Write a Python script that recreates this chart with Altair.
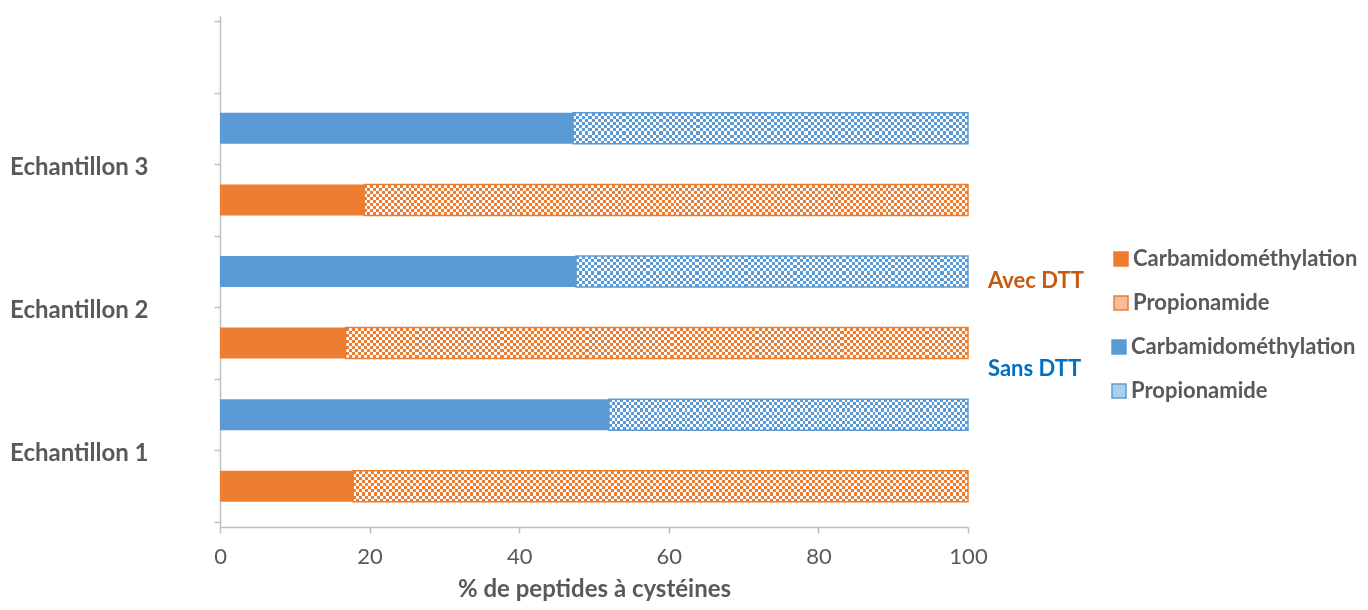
import altair as alt
import pandas as pd

samples = ["Echantillon 1", "Echantillon 2", "Echantillon 3"]
treatments = ["Avec DTT", "Sans DTT"]
types = ["Carbamidométhylation", "Propionamide"]
carb_avec = [17.8, 16.8, 19.3]
prop_avec = [82.2, 83.2, 80.7]
carb_sans = [52.0, 47.6, 47.2]
prop_sans = [48.0, 52.4, 52.8]
x_ticks = [0, 20, 40, 60, 80, 100]

ORANGE = "#ED7D31"
ORANGE_TINT = "#F6BE98"
BLUE = "#5B9BD5"
BLUE_TINT = "#ADCDEA"
GREY = "#595959"
AXIS = "#BFBFBF"
FONT = "Lato"

rows = []
for i, s in enumerate(samples):
    pairs = [(treatments[0], carb_avec[i], prop_avec[i]), (treatments[1], carb_sans[i], prop_sans[i])]
    for j, (t, c, p) in enumerate(pairs):
        rows.append(dict(sample=s, sidx=i, dtt=t, didx=j, type=types[0], tord=0, value=c))
        rows.append(dict(sample=s, sidx=i, dtt=t, didx=j, type=types[1], tord=1, value=p))
df = pd.DataFrame(rows)


def stripes(n, c1, c2, horizontal):
    stops = []
    for k in range(n):
        c = c1 if k % 2 == 0 else c2
        stops.append({"offset": round(k / n, 6), "color": c})
        stops.append({"offset": round((k + 1) / n, 6), "color": c})
    return {"gradient": "linear", "x1": 0, "y1": 0,
            "x2": 1 if horizontal else 0, "y2": 0 if horizontal else 1,
            "stops": stops}


label_expr = " : ".join(
    f"datum.value == {2 * i + 1} ? '{s}'" for i, s in enumerate(samples)
) + " : ''"

x_enc = alt.X(
    "x0:Q",
    scale=alt.Scale(domain=[0, 100], nice=False),
    axis=alt.Axis(values=x_ticks, title="% de peptides à cystéines", grid=False,
                  labelFlush=False, tickSize=6, tickColor=AXIS, domainColor=AXIS,
                  domainWidth=1.5, tickWidth=1.5, labelPadding=13,
                  labelFont=FONT, labelFontSize=22, labelColor=GREY,
                  titleFont=FONT, titleFontSize=24, titleFontWeight="bold",
                  titleColor=GREY, titlePadding=10),
)
x2_enc = alt.X2("x1:Q")
y_enc = alt.Y(
    "slot:Q",
    scale=alt.Scale(domain=[0, 7], nice=False, zero=False),
    axis=alt.Axis(values=list(range(8)), labelExpr=label_expr, title=None, grid=False,
                  tickSize=6, tickColor=AXIS, domainColor=AXIS, domainWidth=1.5,
                  tickWidth=1.5, labelPadding=66, labelOverlap=False, labelOffset=3,
                  labelFont=FONT, labelFontSize=24, labelFontWeight="bold",
                  labelColor=GREY),
)

base = alt.Chart(df).transform_stack(
    stack="value", groupby=["sample", "dtt"], as_=["x0", "x1"],
    sort=[alt.SortField("tord", order="ascending")],
).transform_calculate(
    slot="2 * datum.sidx + datum.didx + 0.5"
)

BAR = 31


def legend(title, tcolor, scolor, ly):
    return alt.Legend(
        title=title, titleOrient="left", titleColor=tcolor, titleFont=FONT,
        titleFontSize=22, titleFontWeight="bold", titleAnchor="middle",
        titleBaseline="middle", titlePadding=26,
        labelFont=FONT, labelFontSize=22, labelFontWeight="bold", labelColor=GREY,
        labelOffset=1, labelLimit=400, symbolType="square", symbolSize=196,
        symbolStrokeColor=scolor, symbolStrokeWidth=1.5, rowPadding=22,
        orient="none", legendX=768, legendY=ly, padding=0,
    )


def series(dtt, color, tint, tcolor, ly, nx):
    sel = alt.datum.dtt == dtt
    solid = base.transform_filter(sel & (alt.datum.type == types[0])).mark_bar(
        size=BAR, orient="horizontal"
    ).encode(
        x=x_enc, x2=x2_enc, y=y_enc,
        color=alt.Color("type:N", scale=alt.Scale(domain=types, range=[color, tint]),
                        legend=legend(dtt, tcolor, color, ly)),
    )
    pat = base.transform_filter(sel & (alt.datum.type == types[1]))
    p1 = pat.mark_bar(size=BAR, orient="horizontal",
                      fill=stripes(nx, "#000000", "#ffffff", True)).encode(
        x=x_enc, x2=x2_enc, y=y_enc)
    p2 = pat.mark_bar(size=BAR, orient="horizontal", blend="difference",
                      fill=stripes(10, "#000000", "#ffffff", False)).encode(
        x=x_enc, x2=x2_enc, y=y_enc)
    p3 = pat.mark_bar(size=BAR, orient="horizontal", blend="screen",
                      fill=color).encode(x=x_enc, x2=x2_enc, y=y_enc)
    p4 = pat.mark_bar(size=BAR, orient="horizontal", filled=False,
                      stroke=color, strokeWidth=1.5).encode(
        x=x_enc, x2=x2_enc, y=y_enc)
    return [solid, p1, p2, p3, p4]


layers = series("Avec DTT", ORANGE, ORANGE_TINT, "#C55A11", 232, 205) + \
    series("Sans DTT", BLUE, BLUE_TINT, "#0070C0", 320, 128)

chart = alt.layer(*layers).resolve_scale(color="independent").properties(
    width=748, height=511,
    autosize=alt.AutoSizeParams(type="none"),
    padding={"left": 212, "top": 8, "right": 392, "bottom": 75},
    background="white",
).configure_view(stroke=None)

chart.save("out.html", embed_options={"renderer": "svg", "actions": False})
